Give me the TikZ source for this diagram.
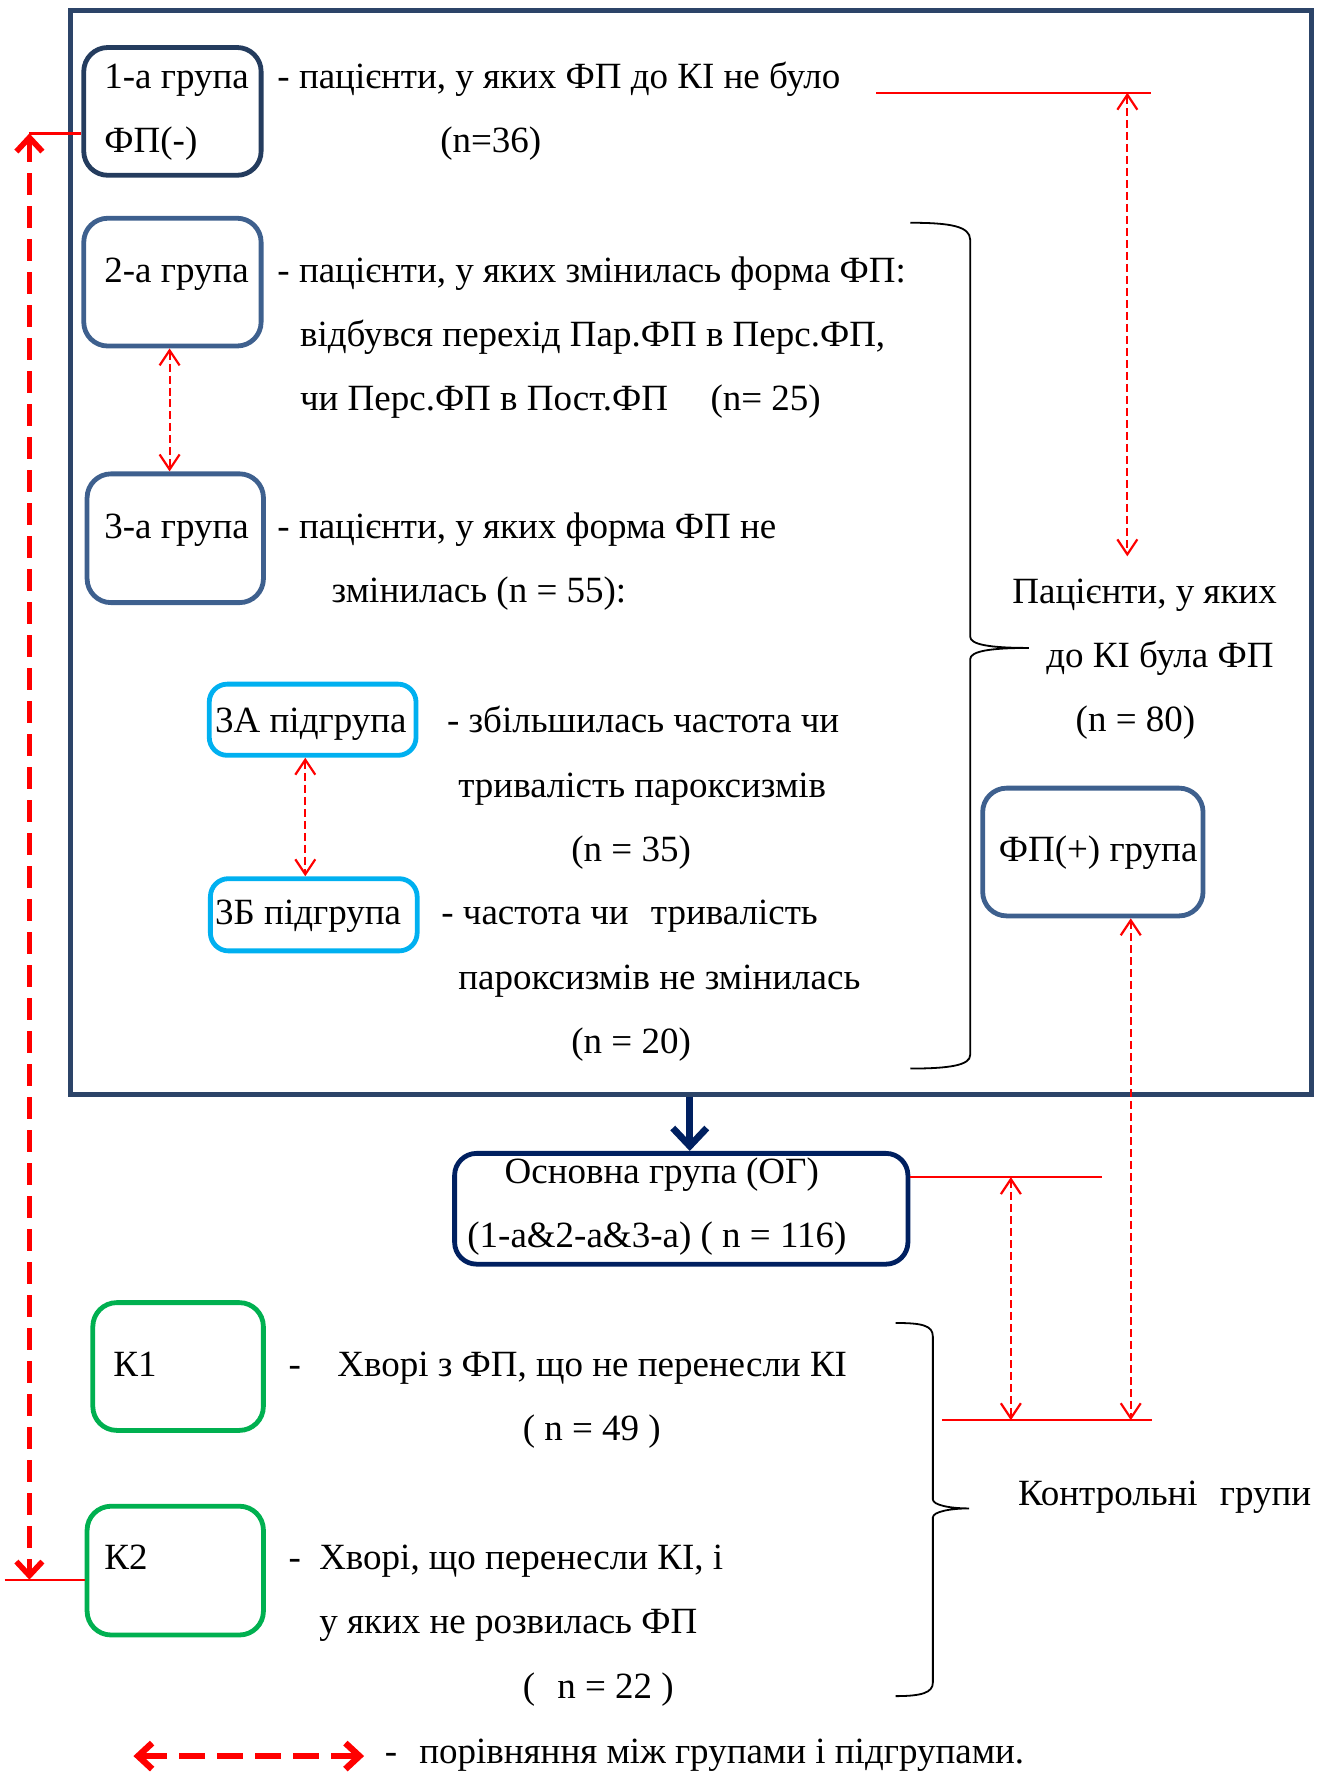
\documentclass[tikz,border=0pt]{standalone}
\usepackage{fontspec}
\setmainfont{Liberation Serif}
\usetikzlibrary{arrows.meta}
\definecolor{framec}{RGB}{44,68,104}
\definecolor{boxone}{RGB}{36,60,94}
\definecolor{boxblue}{RGB}{62,96,142}
\definecolor{cyanc}{RGB}{0,176,240}
\definecolor{navyc}{RGB}{0,32,96}
\definecolor{greenc}{RGB}{0,176,80}
\definecolor{redc}{RGB}{255,0,0}
\begin{document}
\begin{tikzpicture}[x=0.56545pt,y=-0.56545pt,
 every node/.style={font=\fontsize{18.5}{22}\selectfont},
 txt/.style={anchor=base west, inner sep=0pt},
 grp/.style={draw, rounded corners=12pt, line width=2.4pt, inner sep=0pt},
 sub/.style={draw=cyanc, rounded corners=9pt, line width=2.4pt, inner sep=0pt, minimum width=103.4pt},
 cmpthin/.style={draw=redc, line width=1.1pt, dash pattern=on 4pt off 2pt,
   {Straight Barb[length=7.5pt,width=10pt]}-{Straight Barb[length=7.5pt,width=10pt]}},
 cmpthick/.style={draw=redc, line width=2.8pt, dash pattern=on 11pt off 5.5pt,
   {Straight Barb[length=7pt,width=13pt]}-{Straight Barb[length=7pt,width=13pt]}},
 refline/.style={draw=redc, line width=1.1pt},
 bracec/.style={draw=black, line width=0.9pt},
]
\useasboundingbox (0,0) rectangle (1169,1568);

% frame
\node[draw=framec, line width=2.4pt, minimum width=620.8pt, minimum height=542.2pt, inner sep=0pt] (frame) at (611,488.5) {};

% group boxes
\node[grp, draw=boxone, minimum width=88.7pt, minimum height=63.9pt] (b1) at (152.5,98.5) {};
\node[grp, draw=boxblue, minimum width=88.7pt, minimum height=63.9pt] (b2) at (152.5,249.5) {};
\node[grp, draw=boxblue, minimum width=88.2pt, minimum height=64.4pt] (b3) at (155,476) {};
\node[sub, minimum height=35.6pt] (b3a) at (276.5,636.5) {};
\node[sub, minimum height=36.1pt] (b3b) at (277.5,809) {};
\node[grp, draw=boxblue, minimum width=110.2pt, minimum height=63.9pt] (bfp) at (966.5,753.5) {};
\node[grp, draw=navyc, rounded corners=11pt, minimum width=226.7pt, minimum height=55.4pt] (bog) at (602.5,1069) {};
\node[grp, draw=greenc, minimum width=85.3pt, minimum height=63.9pt] (bk1) at (157.5,1208.5) {};
\node[grp, draw=greenc, minimum width=88.2pt, minimum height=64.4pt] (bk2) at (155,1389) {};

% box labels
\node[txt] (t1a) at (92,78) {1-а група};
\node[txt] (t1b) at (92,135) {ФП(-)};
\node[txt] (t2) at (92,250) {2-а група};
\node[txt] (t3) at (92,476) {3-а група};
\node[txt] (t3a) at (190,648) {3А підгрупа};
\node[txt] (t3b) at (190,818) {3Б підгрупа};
\node[txt] (tfp) at (883,762) {ФП(+) група};
\node[txt] (tog1) at (446,1047) {Основна група (ОГ)};
\node[txt] (tog2) at (413,1103) {(1-а\&2-а\&3-а) ( n = 116)};
\node[txt] (tk1) at (100,1217) {К1};
\node[txt] (tk2) at (92,1388) {К2};

% descriptions
\node[txt] (d1a) at (245,78) {- пацієнти, у яких ФП до КІ не було};
\node[txt] (d1b) at (389,135) {(n=36)};
\node[txt] (d2a) at (245,250) {- пацієнти, у яких змінилась форма ФП:};
\node[txt] (d2b) at (265,306) {відбувся перехід Пар.ФП в Перс.ФП,};
\node[txt] (d2c) at (265,363) {чи Перс.ФП в Пост.ФП};
\node[txt] (d2d) at (628,363) {(n= 25)};
\node[txt] (d3a) at (245,476) {- пацієнти, у яких форма ФП не};
\node[txt] (d3b) at (293,533) {змінилась (n = 55):};
\node[txt] (da1) at (395,648) {- збільшилась частота чи};
\node[txt] (da2) at (405,705) {тривалість пароксизмів};
\node[txt] (da3) at (505,762) {(n = 35)};
\node[txt] (db1) at (390,818) {- частота чи\hspace{0.6em}тривалість};
\node[txt] (db2) at (405,875) {пароксизмів не змінилась};
\node[txt] (db3) at (505,932) {(n = 20)};
\node[txt] (p1) at (895,534) {Пацієнти, у яких};
\node[txt] (p2) at (925,590) {до КІ була ФП};
\node[txt] (p3) at (951,647) {(n = 80)};
\node[txt] (k1d) at (255,1217) {-};
\node[txt] (k1a) at (298,1217) {Хворі з ФП, що не перенесли КІ};
\node[txt] (k1b) at (462,1274) {( n = 49 )};
\node[txt] (k2d) at (255,1388) {-};
\node[txt] (k2a) at (282,1388) {Хворі, що перенесли КІ, і};
\node[txt] (k2b) at (282,1445) {у яких не розвилась ФП};
\node[txt] (k2c) at (462,1502) {(\hspace{0.6em}n = 22 )};
\node[txt] (kg) at (900,1331) {Контрольні\hspace{0.6em}групи};
\node[txt] (lgt) at (340,1560) {-\hspace{0.6em}порівняння між групами і підгрупами.};

% braces
\draw[bracec] (805,197) .. controls (840,197) and (858,200) .. (858,212) -- (858,563)
  .. controls (858,570) and (875,573) .. (910,573)
  .. controls (875,573) and (858,576) .. (858,583) -- (858,933)
  .. controls (858,942) and (840,945) .. (805,945);
\draw[bracec] (792,1170) .. controls (815,1170) and (825,1172) .. (825,1182) -- (825,1326)
  .. controls (825,1331) and (840,1334) .. (857,1334)
  .. controls (840,1334) and (825,1337) .. (825,1342) -- (825,1488)
  .. controls (825,1497) and (815,1500) .. (792,1500);

% main group arrow
\coordinate (ogx) at (610,0);
\draw[navyc, line width=3.4pt, -{Straight Barb[length=9pt,width=17pt]}] (frame.south -| ogx) -- (bog.north -| ogx);

% comparison arrows
\coordinate (ax) at (150,0);
\draw[cmpthin] (b2.south -| ax) -- (b3.north -| ax);
\coordinate (bx) at (270,0);
\draw[cmpthin] (b3a.south -| bx) -- (b3b.north -| bx);

\coordinate (r1a) at (775,82);
\coordinate (r1b) at (1018,82);
\draw[refline] (r1a) -- (r1b);
\coordinate (r1end) at (997,492);
\draw[cmpthin] (r1end |- r1a) -- (r1end);

\coordinate (r2b) at (975,1041);
\draw[refline] (bog.east |- r2b) -- (r2b);
\coordinate (r3a) at (833,1256);
\coordinate (r3b) at (1019,1256);
\draw[refline] (r3a) -- (r3b);
\coordinate (mx) at (894,0);
\draw[cmpthin] (r2b -| mx) -- (r3a -| mx);
\coordinate (rx) at (1000,0);
\draw[cmpthin] (bfp.south -| rx) -- (r3a -| rx);

\coordinate (lt) at (26,118);
\coordinate (lb) at (26,1397);
\coordinate (lbl) at (4,1397);
\draw[refline] (lt) -- (lt -| b1.west);
\draw[refline] (lbl) -- (lb -| bk2.west);
\draw[cmpthick] (lt) -- (lb);

% legend
\coordinate (lg1) at (118,1553);
\coordinate (lg2) at (322,1553);
\draw[cmpthick, line width=3.2pt, dash pattern=on 13pt off 6pt] (lg1) -- (lg2);
\end{tikzpicture}
\end{document}
